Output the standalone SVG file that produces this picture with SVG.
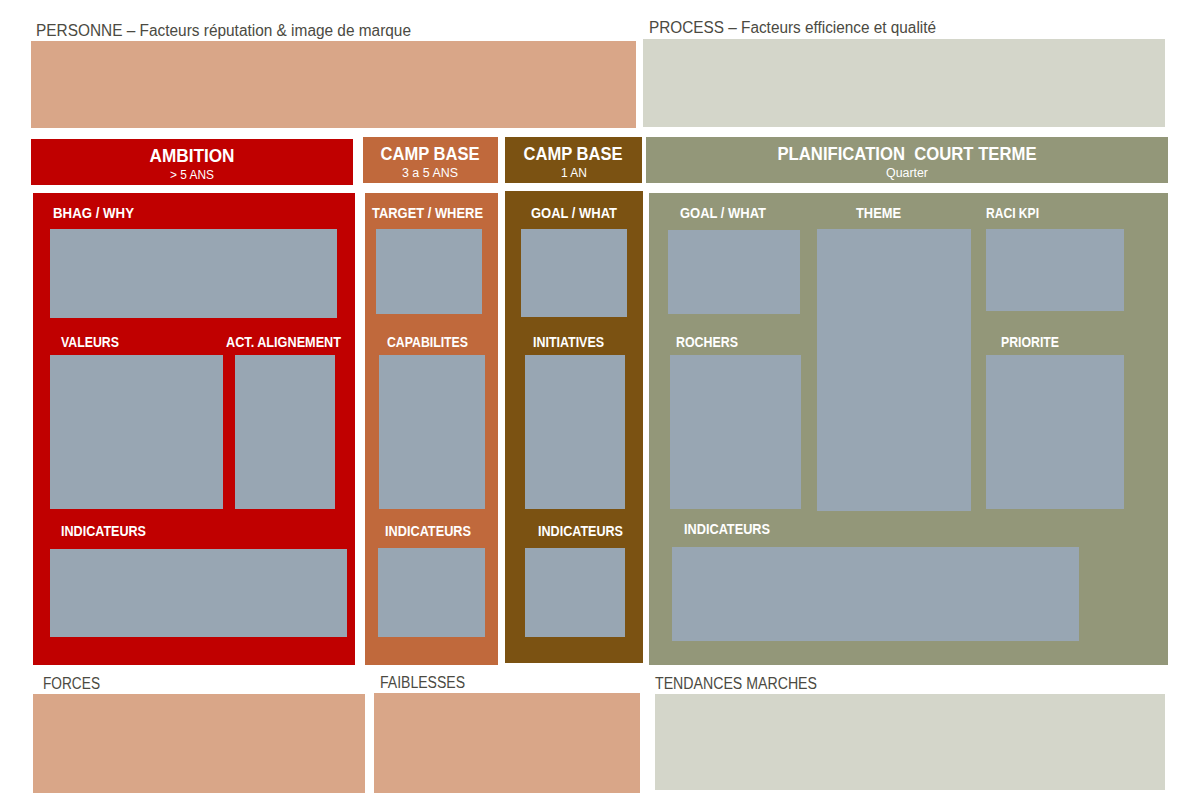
<svg xmlns="http://www.w3.org/2000/svg" width="1178" height="795" viewBox="0 0 1178 795">
<style>
.sal{fill:#D9A688}
.bei{fill:#D4D6CA}
.red{fill:#C00000}
.ora{fill:#C0693C}
.bro{fill:#7B5212}
.oli{fill:#939779}
.box{fill:#98A6B3}
.cap{font-family:"Liberation Sans Narrow","Liberation Sans",Arial,sans-serif;font-size:16px;fill:#4B4A42}
.lbl{font-family:"Liberation Sans Narrow","Liberation Sans",Arial,sans-serif;font-size:14px;font-weight:bold;fill:#FFFFFF}
.hd{font-family:"Liberation Sans Narrow","Liberation Sans",Arial,sans-serif;font-size:19px;font-weight:bold;fill:#FFFFFF;text-anchor:middle}
.sub{font-family:"Liberation Sans Narrow","Liberation Sans",Arial,sans-serif;font-size:12px;fill:#FFFFFF;text-anchor:middle}
</style>
<rect width="1178" height="795" fill="#FFFFFF"/>

<g id="personne">
<text class="cap" x="36" y="36" textLength="375" lengthAdjust="spacingAndGlyphs">PERSONNE – Facteurs réputation &amp; image de marque</text>
<rect class="sal" x="31" y="41" width="605" height="87"/>
</g>
<g id="process">
<text class="cap" x="649" y="33" textLength="287" lengthAdjust="spacingAndGlyphs">PROCESS – Facteurs efficience et qualité</text>
<rect class="bei" x="643" y="39" width="522" height="88"/>
</g>

<g id="ambition-header">
<rect class="red" x="31" y="139" width="322" height="46"/>
<text class="hd" x="192" y="162" textLength="85" lengthAdjust="spacingAndGlyphs">AMBITION</text>
<text class="sub" x="192" y="179" textLength="44" lengthAdjust="spacingAndGlyphs">&gt; 5 ANS</text>
</g>
<g id="campbase1-header">
<rect class="ora" x="363" y="137" width="135" height="46"/>
<text class="hd" x="430" y="160" textLength="99" lengthAdjust="spacingAndGlyphs">CAMP BASE</text>
<text class="sub" x="430" y="177" textLength="56" lengthAdjust="spacingAndGlyphs">3 a 5 ANS</text>
</g>
<g id="campbase2-header">
<rect class="bro" x="505" y="137" width="137" height="46"/>
<text class="hd" x="573" y="160" textLength="99" lengthAdjust="spacingAndGlyphs">CAMP BASE</text>
<text class="sub" x="574" y="177" textLength="26" lengthAdjust="spacingAndGlyphs">1 AN</text>
</g>
<g id="planif-header">
<rect class="oli" x="646" y="137" width="522" height="46"/>
<text class="hd" x="907" y="160" textLength="259" lengthAdjust="spacingAndGlyphs" xml:space="preserve" style="white-space:pre">PLANIFICATION  COURT TERME</text>
<text class="sub" x="907" y="177" textLength="42" lengthAdjust="spacingAndGlyphs">Quarter</text>
</g>

<g id="ambition-panel">
<rect class="red" x="33" y="193" width="322" height="472"/>
<text class="lbl" x="53" y="218" textLength="81" lengthAdjust="spacingAndGlyphs">BHAG / WHY</text>
<rect class="box" x="50" y="229" width="287" height="89"/>
<text class="lbl" x="61" y="347" textLength="58" lengthAdjust="spacingAndGlyphs">VALEURS</text>
<rect class="box" x="50" y="355" width="173" height="154"/>
<text class="lbl" x="226" y="347" textLength="115" lengthAdjust="spacingAndGlyphs">ACT. ALIGNEMENT</text>
<rect class="box" x="235" y="355" width="100" height="154"/>
<text class="lbl" x="61" y="536" textLength="85" lengthAdjust="spacingAndGlyphs">INDICATEURS</text>
<rect class="box" x="50" y="549" width="297" height="88"/>
</g>

<g id="campbase1-panel">
<rect class="ora" x="365" y="193" width="133" height="472"/>
<text class="lbl" x="372" y="218" textLength="111" lengthAdjust="spacingAndGlyphs">TARGET / WHERE</text>
<rect class="box" x="376" y="229" width="106" height="85"/>
<text class="lbl" x="387" y="347" textLength="81" lengthAdjust="spacingAndGlyphs">CAPABILITES</text>
<rect class="box" x="379" y="355" width="106" height="154"/>
<text class="lbl" x="385" y="536" textLength="86" lengthAdjust="spacingAndGlyphs">INDICATEURS</text>
<rect class="box" x="378" y="548" width="107" height="89"/>
</g>

<g id="campbase2-panel">
<rect class="bro" x="505" y="191" width="138" height="472"/>
<text class="lbl" x="531" y="218" textLength="86" lengthAdjust="spacingAndGlyphs">GOAL / WHAT</text>
<rect class="box" x="521" y="229" width="106" height="88"/>
<text class="lbl" x="533" y="347" textLength="71" lengthAdjust="spacingAndGlyphs">INITIATIVES</text>
<rect class="box" x="525" y="355" width="100" height="154"/>
<text class="lbl" x="538" y="536" textLength="85" lengthAdjust="spacingAndGlyphs">INDICATEURS</text>
<rect class="box" x="525" y="548" width="100" height="89"/>
</g>

<g id="planif-panel">
<rect class="oli" x="649" y="193" width="519" height="472"/>
<text class="lbl" x="680" y="218" textLength="86" lengthAdjust="spacingAndGlyphs">GOAL / WHAT</text>
<rect class="box" x="668" y="230" width="132" height="84"/>
<text class="lbl" x="856" y="218" textLength="45" lengthAdjust="spacingAndGlyphs">THEME</text>
<rect class="box" x="817" y="229" width="154" height="282"/>
<text class="lbl" x="986" y="218" textLength="53" lengthAdjust="spacingAndGlyphs">RACI KPI</text>
<rect class="box" x="986" y="229" width="138" height="82"/>
<text class="lbl" x="676" y="347" textLength="62" lengthAdjust="spacingAndGlyphs">ROCHERS</text>
<rect class="box" x="670" y="355" width="131" height="154"/>
<text class="lbl" x="1001" y="347" textLength="58" lengthAdjust="spacingAndGlyphs">PRIORITE</text>
<rect class="box" x="986" y="355" width="138" height="154"/>
<text class="lbl" x="684" y="534" textLength="86" lengthAdjust="spacingAndGlyphs">INDICATEURS</text>
<rect class="box" x="672" y="547" width="407" height="94"/>
</g>

<g id="forces">
<text class="cap" x="43" y="689" textLength="57" lengthAdjust="spacingAndGlyphs">FORCES</text>
<rect class="sal" x="33" y="694" width="332" height="99"/>
</g>
<g id="faiblesses">
<text class="cap" x="380" y="688" textLength="85" lengthAdjust="spacingAndGlyphs">FAIBLESSES</text>
<rect class="sal" x="374" y="693" width="266" height="100"/>
</g>
<g id="tendances">
<text class="cap" x="655" y="689" textLength="162" lengthAdjust="spacingAndGlyphs">TENDANCES MARCHES</text>
<rect class="bei" x="655" y="694" width="510" height="96"/>
</g>

<g id="connectors"/>
</svg>
